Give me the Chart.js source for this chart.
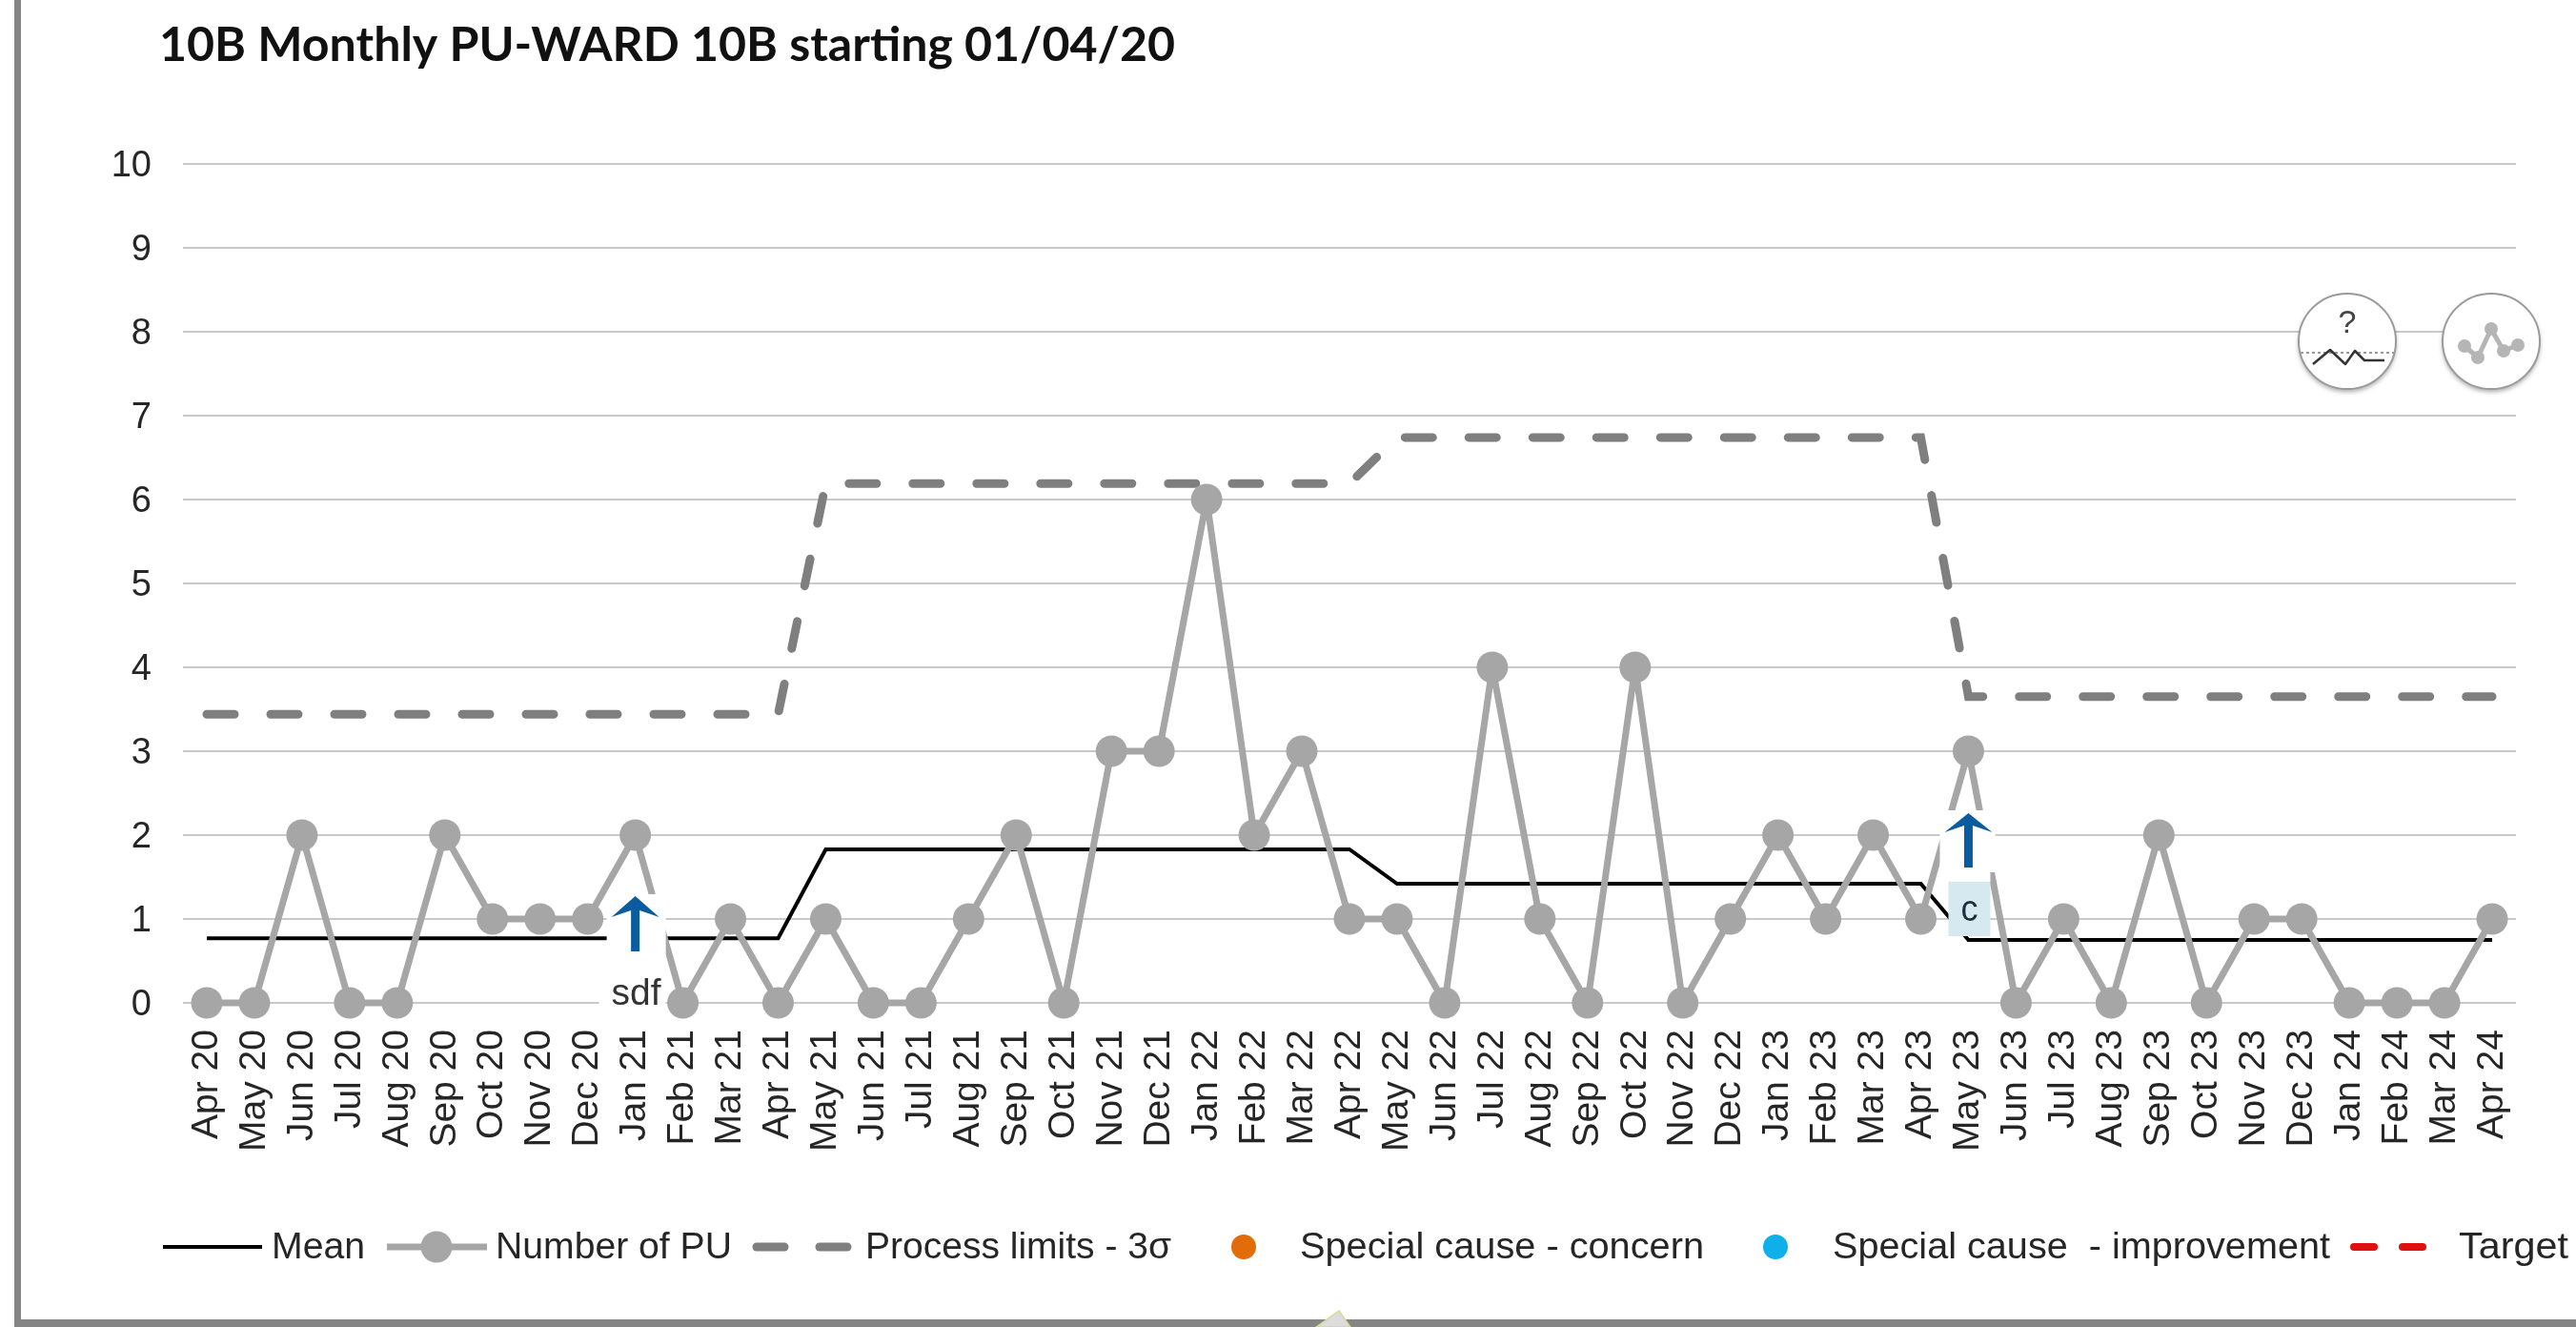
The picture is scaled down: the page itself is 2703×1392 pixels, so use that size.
<!DOCTYPE html>
<html>
<head>
<meta charset="utf-8">
<title>10B Monthly PU</title>
<script src="https://cdn.jsdelivr.net/npm/chart.js@4"></script>
<style>
  html, body { margin: 0; padding: 0; background: #fff; }
  #wrap { position: relative; width: 2703px; height: 1392px; }
</style>
</head>
<body>
<div id="wrap"><canvas id="chart" width="2703" height="1392"></canvas></div>
<script>
// Chart values
const months = ['Apr 20','May 20','Jun 20','Jul 20','Aug 20','Sep 20','Oct 20','Nov 20','Dec 20',
    'Jan 21','Feb 21','Mar 21','Apr 21','May 21','Jun 21','Jul 21','Aug 21','Sep 21','Oct 21','Nov 21','Dec 21',
    'Jan 22','Feb 22','Mar 22','Apr 22','May 22','Jun 22','Jul 22','Aug 22','Sep 22','Oct 22','Nov 22','Dec 22',
    'Jan 23','Feb 23','Mar 23','Apr 23','May 23','Jun 23','Jul 23','Aug 23','Sep 23','Oct 23','Nov 23','Dec 23',
    'Jan 24','Feb 24','Mar 24','Apr 24'];
const numberOfPU = [0,0,2,0,0,2,1,1,1,
    2,0,1,0,1,0,0,1,2,0,3,3,
    6,2,3,1,1,0,4,1,0,4,0,1,
    2,1,2,1,3,0,1,0,2,0,1,1,
    0,0,0,1];
const mean = [0.77,0.77,0.77,0.77,0.77,0.77,0.77,0.77,0.77,0.77,0.77,0.77,0.77,
    1.83,1.83,1.83,1.83,1.83,1.83,1.83,1.83,1.83,1.83,1.83,1.83,
    1.42,1.42,1.42,1.42,1.42,1.42,1.42,1.42,1.42,1.42,1.42,1.42,
    0.75,0.75,0.75,0.75,0.75,0.75,0.75,0.75,0.75,0.75,0.75,0.75];
const processLimit = [3.44,3.44,3.44,3.44,3.44,3.44,3.44,3.44,3.44,3.44,3.44,3.44,3.44,
    6.19,6.19,6.19,6.19,6.19,6.19,6.19,6.19,6.19,6.19,6.19,6.19,
    6.74,6.74,6.74,6.74,6.74,6.74,6.74,6.74,6.74,6.74,6.74,6.74,
    3.65,3.65,3.65,3.65,3.65,3.65,3.65,3.65,3.65,3.65,3.65,3.65];
const yTicks = [0,1,2,3,4,5,6,7,8,9,10];
const chartTitle = '10B Monthly PU-WARD 10B starting 01/04/20';

const GREY = '#a6a6a6';
const LIMIT_GREY = '#7f7f7f';
const TEXT = '#262626';

// Draws text squeezed to a known width, the original is stretched
function fitText(ctx, text, x, y, width, font, color) {
    ctx.save();
    ctx.font = font;
    ctx.fillStyle = color;
    ctx.textAlign = 'left';
    ctx.textBaseline = 'middle';
    const w = ctx.measureText(text).width;
    ctx.translate(x, y);
    ctx.scale(width / w, 1);
    ctx.fillText(text, 0, 0);
    ctx.restore();
}

function seg(ctx, x1, x2, y, color, width, cap) {
    ctx.save();
    ctx.strokeStyle = color;
    ctx.lineWidth = width;
    ctx.lineCap = cap || 'butt';
    ctx.beginPath();
    ctx.moveTo(x1, y);
    ctx.lineTo(x2, y);
    ctx.stroke();
    ctx.restore();
}

function dot(ctx, x, y, r, color) {
    ctx.fillStyle = color;
    ctx.beginPath();
    ctx.arc(x, y, r, 0, Math.PI * 2);
    ctx.fill();
}

function upArrow(ctx, x, tip, wingY, bottom) {
    ctx.fillStyle = '#0b5c9e';
    ctx.beginPath();
    ctx.moveTo(x, tip);
    ctx.lineTo(x + 25, wingY);
    ctx.lineTo(x + 4.5, wingY - 7);
    ctx.lineTo(x + 4.5, bottom);
    ctx.lineTo(x - 4.5, bottom);
    ctx.lineTo(x - 4.5, wingY - 7);
    ctx.lineTo(x - 25, wingY);
    ctx.closePath();
    ctx.fill();
}

// The two small round buttons top right
function drawIcons(ctx) {
    [2463, 2614].forEach(function (cx) {
        ctx.save();
        ctx.shadowColor = 'rgba(0,0,0,0.35)';
        ctx.shadowBlur = 5;
        ctx.shadowOffsetY = 3;
        ctx.fillStyle = '#fff';
        ctx.beginPath();
        ctx.ellipse(cx, 358, 51, 50, 0, 0, Math.PI * 2);
        ctx.fill();
        ctx.restore();
        ctx.strokeStyle = '#9a9a9a';
        ctx.lineWidth = 2;
        ctx.beginPath();
        ctx.ellipse(cx, 358, 51, 50, 0, 0, Math.PI * 2);
        ctx.stroke();
    });

    ctx.save();
    ctx.font = '34px "Liberation Sans"';
    ctx.fillStyle = '#444';
    ctx.textAlign = 'center';
    ctx.textBaseline = 'middle';
    ctx.fillText('?', 2463, 340);
    ctx.setLineDash([3, 3]);
    ctx.strokeStyle = '#999';
    ctx.lineWidth = 2;
    ctx.beginPath();
    ctx.moveTo(2414, 370);
    ctx.lineTo(2512, 370);
    ctx.stroke();
    ctx.setLineDash([]);
    ctx.strokeStyle = '#333';
    ctx.lineWidth = 2.5;
    ctx.lineJoin = 'round';
    ctx.beginPath();
    [[2427,382],[2445,367],[2461,382],[2471,368],[2481,378],[2502,378]].forEach(function (p, i) {
        if (i === 0) ctx.moveTo(p[0], p[1]); else ctx.lineTo(p[0], p[1]);
    });
    ctx.stroke();

    ctx.strokeStyle = '#b5b5b5';
    ctx.lineWidth = 5;
    const spark = [[2586,363],[2600,375],[2614,345],[2627,368],[2642,362]];
    ctx.beginPath();
    spark.forEach(function (p, i) {
        if (i === 0) ctx.moveTo(p[0], p[1]); else ctx.lineTo(p[0], p[1]);
    });
    ctx.stroke();
    spark.forEach(function (p) { dot(ctx, p[0], p[1], 7, '#b5b5b5'); });
    ctx.restore();
}

function drawLegend(ctx) {
    const y = 1308;
    const ty = y + 2;
    const font = '38px "Liberation Sans"';
    seg(ctx, 171, 275, y, '#000', 4);
    fitText(ctx, 'Mean', 285, ty, 98, font, TEXT);
    seg(ctx, 406, 511, y, GREY, 7);
    dot(ctx, 458, y, 16.5, GREY);
    fitText(ctx, 'Number of PU', 520, ty, 248, font, TEXT);
    seg(ctx, 794, 823, y, LIMIT_GREY, 9, 'round');
    seg(ctx, 860, 889, y, LIMIT_GREY, 9, 'round');
    fitText(ctx, 'Process limits - 3σ', 908, ty, 321, font, TEXT);
    dot(ctx, 1305, y, 13, '#e36c0a');
    fitText(ctx, 'Special cause - concern', 1364, ty, 424, font, TEXT);
    dot(ctx, 1863, y, 13, '#0fb0ea');
    fitText(ctx, 'Special cause  - improvement', 1923, ty, 522, font, TEXT);
    seg(ctx, 2470, 2491, y, '#e01010', 8, 'round');
    seg(ctx, 2521, 2542, y, '#e01010', 8, 'round');
    fitText(ctx, 'Target', 2580, ty, 115, font, TEXT);
}

// Everything that sits outside the library's own marks
const overlayPlugin = {
    id: 'overlay',
    beforeDraw: function (chart) {
        // y tick labels sit a little high with this font
        chart.scales.y.getLabelItems().forEach(function (item) {
            if (!item.moved) {
                item.options.translation[1] += 3;
                item.moved = true;
            }
        });
    },
    afterDraw: function (chart) {
        const ctx = chart.ctx;
        const xs = chart.scales.x;
        const ax1 = xs.getPixelForValue(months.indexOf('Jan 21'));
        const ax2 = xs.getPixelForValue(months.indexOf('May 23'));
        ctx.save();

        // note over Jan 21
        ctx.fillStyle = '#fff';
        ctx.fillRect(ax1 - 30, 938, 62, 72);
        ctx.fillRect(ax1 - 38, 1010, 70, 50);
        upArrow(ctx, ax1, 940, 962, 998);
        fitText(ctx, 'sdf', ax1 - 25, 1044, 52, '38px "Liberation Sans"', '#333');

        // note over May 23
        ctx.fillStyle = '#fff';
        ctx.fillRect(ax2 - 30, 850, 58, 65);
        ctx.fillRect(ax2 - 21, 915, 44, 10);
        upArrow(ctx, ax2, 853, 873, 910);
        ctx.fillStyle = '#d6e8f0';
        ctx.fillRect(ax2 - 21, 925, 44, 57);
        fitText(ctx, 'c', ax2 - 8, 956, 18, '38px "Liberation Sans"', '#1f2d3d');

        drawIcons(ctx);
        drawLegend(ctx);

        // title
        fitText(ctx, chartTitle, 167, 48, 1066, 'bold 50px Lato', '#111');

        // frame, left and bottom only
        ctx.fillStyle = '#858585';
        ctx.fillRect(15, 0, 7, 1392);
        ctx.fillRect(15, 1384, 2688, 8);

        // small tab sticking up out of the frame
        ctx.fillStyle = '#dcdcdc';
        ctx.strokeStyle = '#d8d890';
        ctx.lineWidth = 1.5;
        ctx.beginPath();
        ctx.moveTo(1381, 1392);
        ctx.lineTo(1405, 1375);
        ctx.lineTo(1417, 1392);
        ctx.closePath();
        ctx.fill();
        ctx.stroke();
        ctx.restore();
    }
};

new Chart(document.getElementById('chart'), {
    type: 'line',
    data: {
        labels: months,
        datasets: [
            {
                label: 'Mean',
                data: mean,
                borderColor: '#000',
                borderWidth: 4,
                pointRadius: 0,
                tension: 0,
                order: 2
            },
            {
                label: 'Number of PU',
                data: numberOfPU,
                borderColor: GREY,
                backgroundColor: GREY,
                borderWidth: 7,
                borderJoinStyle: 'round',
                pointRadius: 16.5,
                pointBackgroundColor: GREY,
                pointBorderWidth: 0,
                tension: 0,
                clip: false,
                order: 1
            },
            {
                label: 'Process limits - 3σ',
                data: processLimit,
                borderColor: LIMIT_GREY,
                borderWidth: 9,
                borderDash: [29, 38],
                borderCapStyle: 'round',
                pointRadius: 0,
                tension: 0,
                order: 3
            }
        ]
    },
    options: {
        responsive: false,
        animation: false,
        layout: { padding: { top: 172, right: 63, bottom: 0, left: 0 } },
        plugins: { legend: { display: false }, title: { display: false }, tooltip: { enabled: false } },
        scales: {
            x: {
                offset: true,
                grid: { display: false },
                border: { display: false },
                ticks: {
                    autoSkip: false,
                    minRotation: 90,
                    maxRotation: 90,
                    padding: 20,
                    color: TEXT,
                    font: { family: '"Liberation Sans"', size: 39 }
                },
                afterFit: function (axis) { axis.height = 340; }
            },
            y: {
                min: 0,
                max: 10,
                afterBuildTicks: function (axis) {
                    axis.ticks = yTicks.map(function (v) { return { value: v }; });
                },
                grid: { color: '#c9c9c9', lineWidth: 2, drawTicks: false },
                border: { display: false },
                ticks: {
                    padding: 33,
                    color: TEXT,
                    font: { family: '"Liberation Sans"', size: 38 }
                },
                afterFit: function (axis) { axis.width = 192; }
            }
        }
    },
    plugins: [overlayPlugin]
});
</script>
</body>
</html>
